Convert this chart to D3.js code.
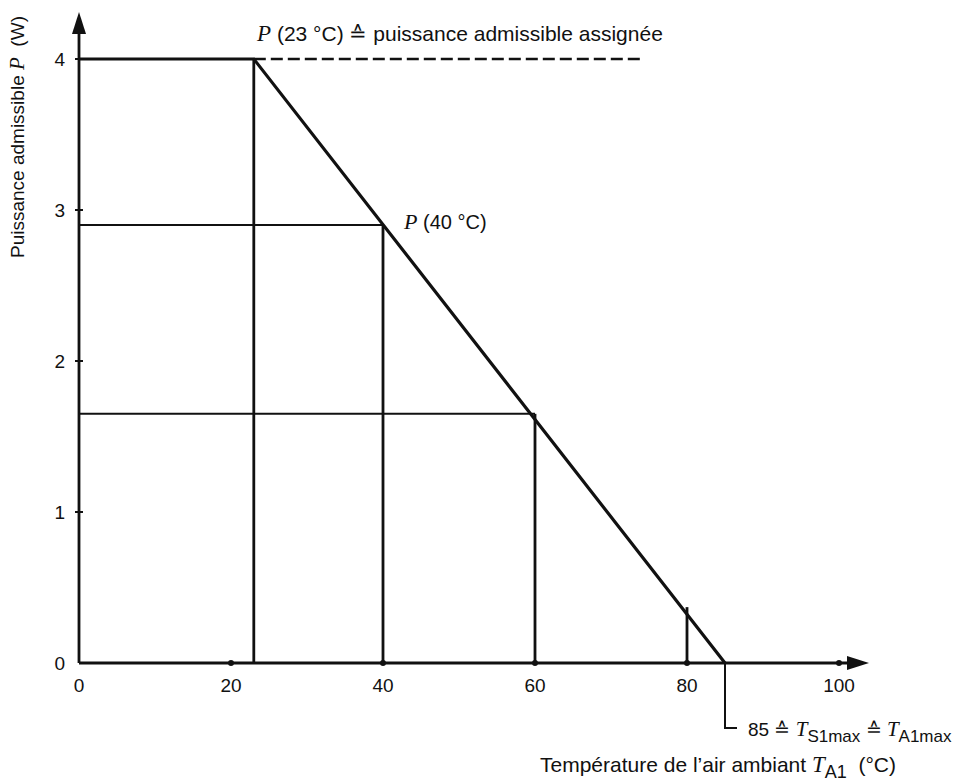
<!DOCTYPE html>
<html>
<head>
<meta charset="utf-8">
<script src="https://cdn.jsdelivr.net/npm/d3@7"></script>
<style>
  body { margin: 0; background: #fff; }
  svg text { font-family: "Liberation Sans", Arial, sans-serif; fill: #111; }
  .it { font-family: "Liberation Serif", "Times New Roman", serif; font-style: italic; }
</style>
</head>
<body>
<div id="chart"></div>
<script>
// derating curve (ambient temperature °C, permissible power W)
var curveT = [0, 23, 85];
var curveP = [4, 4, 0];
// rated power continued as dashed line
var dashT = [23, 74];
var dashP = [4, 4];
// construction lines
var refT = [23, 40, 60, 80];
var refP = [4, 2.9, 1.65, 0.37];
var refHoriz = [false, true, true, false];
var xTicks = [0, 20, 40, 60, 80, 100];
var yTicks = [0, 1, 2, 3, 4];

var W = 954, H = 783;
var svg = d3.select("#chart").append("svg")
    .attr("width", W).attr("height", H);

var x = d3.scaleLinear().domain([0, 100]).range([79, 839]);
var y = d3.scaleLinear().domain([0, 4]).range([663, 59]);

var ink = "#111";
var sw = 2.8;

// axes lines with arrow heads
svg.append("line")
    .attr("x1", x(0)).attr("y1", y(0)).attr("x2", x(0)).attr("y2", 28)
    .attr("stroke", ink).attr("stroke-width", sw);
svg.append("path")
    .attr("d", "M" + x(0) + ",12 L" + (x(0) - 7) + ",34 L" + (x(0) + 7) + ",34 Z")
    .attr("fill", ink);
svg.append("line")
    .attr("x1", x(0)).attr("y1", y(0)).attr("x2", 852).attr("y2", y(0))
    .attr("stroke", ink).attr("stroke-width", sw);
svg.append("path")
    .attr("d", "M869," + y(0) + " L847," + (y(0) - 7) + " L847," + (y(0) + 7) + " Z")
    .attr("fill", ink);

// x ticks (dots) and labels
svg.selectAll("circle.xt")
    .data(xTicks.filter(function(d){ return d > 0; }))
    .enter().append("circle")
    .attr("cx", function(d){ return x(d); })
    .attr("cy", y(0))
    .attr("r", 3)
    .attr("fill", ink);
svg.selectAll("text.xt")
    .data(xTicks)
    .enter().append("text")
    .attr("x", function(d){ return x(d); })
    .attr("y", y(0) + 29)
    .attr("text-anchor", "middle")
    .attr("font-size", 19)
    .text(function(d){ return d; });

// y ticks and labels
svg.selectAll("line.yt")
    .data(yTicks.filter(function(d){ return d > 0; }))
    .enter().append("line")
    .attr("x1", x(0) - 4).attr("x2", x(0) + 4)
    .attr("y1", function(d){ return y(d); })
    .attr("y2", function(d){ return y(d); })
    .attr("stroke", ink).attr("stroke-width", 2);
svg.selectAll("text.yt")
    .data(yTicks)
    .enter().append("text")
    .attr("x", x(0) - 14)
    .attr("y", function(d){ return y(d) + 7; })
    .attr("text-anchor", "end")
    .attr("font-size", 19)
    .text(function(d){ return d; });

// construction lines
refT.forEach(function(t, i) {
  svg.append("line")
      .attr("x1", x(t)).attr("y1", y(0)).attr("x2", x(t)).attr("y2", y(refP[i]))
      .attr("stroke", ink).attr("stroke-width", sw);
  if (refHoriz[i]) {
    svg.append("line")
        .attr("x1", x(0)).attr("y1", y(refP[i])).attr("x2", x(t)).attr("y2", y(refP[i]))
        .attr("stroke", ink).attr("stroke-width", 2);
  }
});

// dashed continuation of rated power
svg.append("line")
    .attr("x1", x(dashT[0])).attr("y1", y(dashP[0]))
    .attr("x2", x(dashT[1])).attr("y2", y(dashP[1]))
    .attr("stroke", ink).attr("stroke-width", 2.4)
    .attr("stroke-dasharray", "12,5");

// derating curve
var line = d3.line()
    .x(function(d){ return x(d[0]); })
    .y(function(d){ return y(d[1]); });
svg.append("path")
    .datum(curveT.map(function(t, i){ return [t, curveP[i]]; }))
    .attr("d", line)
    .attr("fill", "none")
    .attr("stroke", ink)
    .attr("stroke-width", 3.2);

// leader from 85
svg.append("path")
    .attr("d", "M" + x(85) + "," + y(0) + " L" + x(85) + ",728 L" + (x(85) + 12) + ",728")
    .attr("fill", "none").attr("stroke", ink).attr("stroke-width", 2);

// annotations
var t1 = svg.append("text").attr("x", 257).attr("y", 41).attr("font-size", 21);
t1.append("tspan").attr("class", "it").attr("font-size", 23).text("P");
t1.append("tspan").text(" (23 °C) ≙ puissance admissible assignée");

var t2 = svg.append("text").attr("x", 404).attr("y", 229).attr("font-size", 20);
t2.append("tspan").attr("class", "it").attr("font-size", 22).text("P");
t2.append("tspan").text(" (40 °C)");

var t3 = svg.append("text").attr("x", 748).attr("y", 736).attr("font-size", 19);
t3.append("tspan").text("85 ≙ ");
t3.append("tspan").attr("class", "it").attr("font-size", 21).text("T");
t3.append("tspan").attr("dy", 6).attr("font-size", 17).text("S1max");
t3.append("tspan").attr("dy", -6).text(" ≙ ");
t3.append("tspan").attr("class", "it").attr("font-size", 21).text("T");
t3.append("tspan").attr("dy", 6).attr("font-size", 17).text("A1max");

var t4 = svg.append("text").attr("x", 540).attr("y", 772).attr("font-size", 21);
t4.append("tspan").text("Température de l’air ambiant ");
t4.append("tspan").attr("class", "it").attr("font-size", 23).text("T");
t4.append("tspan").attr("dy", 6).attr("font-size", 18).text("A1");
t4.append("tspan").attr("dy", -6).text("\u00a0\u00a0(°C)");

var t5 = svg.append("text")
    .attr("transform", "translate(24,258) rotate(-90)")
    .attr("font-size", 19);
t5.append("tspan").text("Puissance admissible ");
t5.append("tspan").attr("class", "it").attr("font-size", 21).text("P");
t5.append("tspan").text("\u00a0\u00a0(W)");
</script>
</body>
</html>
